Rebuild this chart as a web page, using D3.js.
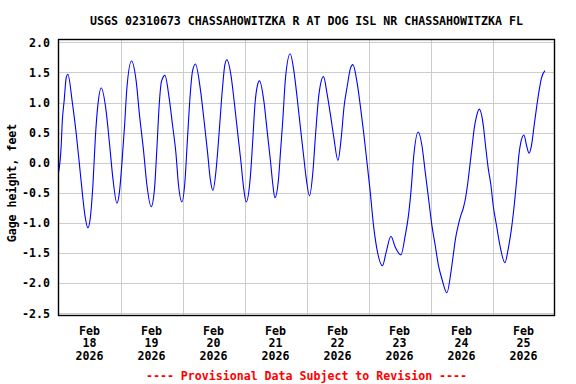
<!DOCTYPE html>
<html>
<head>
<meta charset="utf-8">
<script src="https://cdn.jsdelivr.net/npm/d3@7"></script>
<style>
  body { margin: 0; background: #fff; }
  text { font-family: "DejaVu Sans Mono", monospace; font-weight: bold; font-size: 11.6px; }
</style>
</head>
<body>
<div class="container"></div>
<script>
const TITLE = "USGS 02310673 CHASSAHOWITZKA R AT DOG ISL NR CHASSAHOWITZKA FL";
const Y_LABEL = "Gage height, feet";
const FOOTER = "---- Provisional Data Subject to Revision ----";

const START = new Date(2026, 1, 18);
const END = new Date(2026, 1, 26);
const yTicks = [2.0, 1.5, 1.0, 0.5, 0.0, -0.5, -1.0, -1.5, -2.0, -2.5];
const dayLabels = [18, 19, 20, 21, 22, 23, 24, 25];
const monthLabel = "Feb";
const yearLabel = "2026";

// hours after Feb 18 00:00
const hours = [
  0, 1.05, 1.43, 2.21, 2.98, 3.64, 5.30, 6.85, 8.13, 9.17, 10.22, 11.38, 12.27, 13.32, 14.32, 15.25,
  16.53, 18.46, 19.74, 21.06, 22.61, 23.61, 24.54, 25.55, 26.48, 28.26, 30.08, 31.36, 32.90, 34.22, 35.88, 37.16,
  38.09, 38.98, 39.87, 41.19, 42.85, 44.13, 45.45, 46.45, 47.77, 48.93, 49.94, 50.98, 51.87, 53.03, 54.85, 56.40,
  57.68, 58.72, 59.77, 60.93, 62.21, 63.48, 64.41, 65.19, 66.74, 68.01, 69.29, 70.61, 71.61, 72.66, 74.21, 75.25,
  76.03, 76.92, 77.81, 79.51, 80.79, 82.07, 82.99, 83.77, 85.05, 85.94, 86.87, 87.87, 89.69, 91.12, 92.40, 93.68,
  95.00, 95.89, 97.16, 98.48, 99.49, 100.80, 102.58, 104.02, 105.29, 106.61, 108.16, 109.55, 110.48, 111.76, 113.03,
  113.96, 115.51, 116.79, 118.07, 119.38, 120.66, 121.94, 123.25, 125.42, 126.86, 128.67, 130.34, 132.55, 134.21,
  135.49, 136.53, 137.42, 139.24, 140.67, 141.95, 143.23, 144.54, 145.82, 147.10, 148.42, 150.35,
  151.90, 152.79, 153.68, 154.73, 155.77, 156.66, 157.55, 158.33, 159.26, 160.15, 160.92, 161.81, 162.86, 164.41,
  165.29, 166.34, 167.38, 168.27, 169.55, 170.87, 172.80, 174.08, 175.36, 176.40, 177.29, 178.22, 179.02, 180.16,
  181.17, 182.10, 183.10, 184.15, 185.04, 185.97, 186.97, 188.29
];
const gage = [
  -0.17, 0.29, 0.66, 1.04, 1.41, 1.47, 1.02, 0.49, -0.04, -0.48, -0.87, -1.08, -0.93, -0.37, 0.46, 0.96,
  1.24, 0.85, 0.32, -0.26, -0.67, -0.48, -0.01, 0.60, 1.24, 1.69, 1.35, 0.79, 0.21, -0.37, -0.73, -0.43,
  0.24, 0.96, 1.35, 1.45, 1.07, 0.63, 0.16, -0.37, -0.65, -0.32, 0.41, 1.13, 1.52, 1.64, 1.24, 0.68,
  0.18, -0.26, -0.46, -0.15, 0.52, 1.24, 1.63, 1.71, 1.46, 1.02, 0.52, 0.02, -0.40, -0.65, -0.26, 0.41,
  0.96, 1.27, 1.36, 1.02, 0.52, 0.02, -0.37, -0.58, -0.32, 0.18, 0.74, 1.41, 1.81, 1.52, 1.07, 0.57,
  0.07, -0.26, -0.55, -0.15, 0.46, 1.13, 1.43, 1.13, 0.79, 0.41, 0.04, 0.46, 0.91, 1.27, 1.57,
  1.63, 1.35, 0.96, 0.52, 0.02, -0.48, -1.04, -1.43, -1.71, -1.48, -1.22, -1.40, -1.53, -1.21,
  -0.87, -0.43, 0.07, 0.51, 0.29, -0.15, -0.59, -1.04, -1.37, -1.71, -1.93, -2.16,
  -1.82, -1.54, -1.26, -1.04, -0.87, -0.76, -0.59, -0.37, -0.04, 0.29, 0.57, 0.77, 0.89, 0.63,
  0.29, -0.09, -0.37, -0.71, -1.04, -1.37, -1.66, -1.43, -1.09, -0.71, -0.32, 0.13, 0.35, 0.46,
  0.29, 0.16, 0.29, 0.63, 0.91, 1.18, 1.41, 1.53
];

const WIDTH = 576, HEIGHT = 384;
const PLOT = { left: 58.5, right: 554.5, top: 39.5, bottom: 315.5 };

const data = hours.map((h, i) => ({ date: new Date(START.getTime() + h * 3600e3), value: gage[i] }));

const svg = d3.select(".container").append("svg")
  .attr("width", WIDTH)
  .attr("height", HEIGHT);

const x = d3.scaleTime()
  .domain([START, END])
  .range([PLOT.left, PLOT.right]);

const y = d3.scaleLinear()
  .domain([-2.5, 2.0])
  .range([313.3, 42.3]);

// grid
svg.append("g")
  .selectAll("line")
  .data(yTicks)
  .enter()
  .append("line")
  .attr("x1", PLOT.left).attr("x2", PLOT.right)
  .attr("y1", d => Math.round(y(d)) + 0.5)
  .attr("y2", d => Math.round(y(d)) + 0.5)
  .attr("stroke", "rgb(204,204,204)")
  .attr("stroke-width", 1);

svg.append("g")
  .selectAll("line")
  .data(d3.timeDay.range(d3.timeDay.offset(START, 1), END))
  .enter()
  .append("line")
  .attr("x1", d => Math.round(x(d)) + 0.5)
  .attr("x2", d => Math.round(x(d)) + 0.5)
  .attr("y1", PLOT.top).attr("y2", PLOT.bottom)
  .attr("stroke", "rgb(204,204,204)")
  .attr("stroke-width", 1);

// data line
const line = d3.line()
  .x(d => x(d.date))
  .y(d => y(d.value))
  .curve(d3.curveMonotoneX);

svg.append("path")
  .datum(data)
  .attr("fill", "none")
  .attr("stroke", "rgb(0,0,255)")
  .attr("stroke-width", 1.1)
  .attr("d", line);

// frame
svg.append("rect")
  .attr("x", PLOT.left)
  .attr("y", PLOT.top)
  .attr("width", PLOT.right - PLOT.left)
  .attr("height", PLOT.bottom - PLOT.top)
  .attr("fill", "none")
  .attr("stroke", "black")
  .attr("stroke-width", 1.4);

// y tick labels
svg.append("g")
  .selectAll("text")
  .data(yTicks)
  .enter()
  .append("text")
  .attr("x", 50)
  .attr("y", d => y(d) + 4.2)
  .attr("text-anchor", "end")
  .text(d => d3.format(".1f")(d).replace("−", "-"));

// x labels, centered at noon of each day
const xLab = svg.append("g")
  .selectAll("g")
  .data(dayLabels)
  .enter()
  .append("g")
  .attr("transform", d => `translate(${x(new Date(2026, 1, d, 12))},0)`);
xLab.append("text").attr("y", 334.5).attr("text-anchor", "middle").text(monthLabel);
xLab.append("text").attr("y", 347.3).attr("text-anchor", "middle").text(d => d);
xLab.append("text").attr("y", 360.2).attr("text-anchor", "middle").text(yearLabel);

// title, axis label, footer
svg.append("text")
  .attr("x", (PLOT.left + PLOT.right) / 2)
  .attr("y", 25)
  .attr("text-anchor", "middle")
  .text(TITLE);

svg.append("text")
  .attr("transform", "translate(15.5,183) rotate(-90)")
  .attr("text-anchor", "middle")
  .text(Y_LABEL);

svg.append("text")
  .attr("x", (PLOT.left + PLOT.right) / 2)
  .attr("y", 379.5)
  .attr("text-anchor", "middle")
  .attr("fill", "rgb(255,0,0)")
  .text(FOOTER);
</script>
</body>
</html>
